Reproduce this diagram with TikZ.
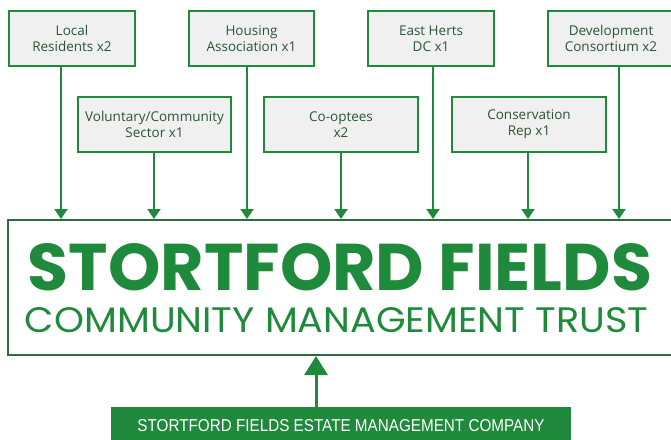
\documentclass[tikz,border=0pt]{standalone}
\usepackage{fontspec}
\usepackage{graphicx}
\setmainfont{Open Sans}
\newfontfamily\headfont{Poppins}
\newfontfamily\basefont{Liberation Sans}
\usepackage{xcolor}
\usepackage{tikz}
\usetikzlibrary{arrows.meta,positioning}
\definecolor{sfgreen}{HTML}{1F8A3B}
\definecolor{sfdark}{HTML}{2A6E40}
\definecolor{sftext}{HTML}{2A5536}
\definecolor{sfgrey}{HTML}{F0F0F0}

\begin{document}
\begin{tikzpicture}[x=1pt,y=-1pt,
  member/.style={draw=sfgreen,line width=2.5pt,fill=sfgrey,text=sftext,align=center,
    font=\fontsize{13.5}{16}\selectfont,inner sep=0pt,minimum height=55pt},
  feed/.style={sfgreen,line width=2pt,-{Triangle[length=10pt,width=13pt]}}]
\useasboundingbox (0,0) rectangle (671,439);

% Members, top row
\node[member,minimum width=126pt] (lr) at (72,38.5) {Local\\Residents x2};
\node[member,minimum width=125pt] (ha) at (251.5,38.5) {Housing\\Association x1};
\node[member,minimum width=126pt] (eh) at (431,38.5) {East Herts\\DC x1};
\node[member,minimum width=126pt] (dc) at (611,38.5) {Development\\Consortium x2};

% Members, second row
\node[member,minimum width=153pt] (vc) at (154.5,124.5) {Voluntary/Community\\Sector x1};
\node[member,minimum width=154pt] (co) at (341,124.5) {Co-optees\\x2};
\node[member,minimum width=154pt] (cr) at (529,124.5) {Conservation\\Rep x1};

% Trust
\node[draw=sfdark,line width=2pt,minimum width=672pt,minimum height=135pt,inner sep=0pt] (trust) at (344,287.5) {};
\node[sfgreen,anchor=base,inner sep=0pt] (name) at (340,290) {\resizebox{624pt}{47pt}{\headfont\bfseries STORTFORD FIELDS}};
\node[sfgreen,anchor=base,inner sep=0pt] (sub) at (336.5,332) {\resizebox{623pt}{25pt}{\headfont COMMUNITY MANAGEMENT TRUST}};

% Arrows into the trust
\foreach \m/\x [count=\i] in {lr/61,vc/154,ha/247,co/341,eh/433,cr/528,dc/619} {
  \coordinate (t\i) at (\x,0);
  \draw[feed] (\m.south -| t\i) -- (t\i |- trust.north);
}

% Company
\node[fill=sfgreen,text=white,minimum width=460pt,minimum height=37pt,inner sep=0pt] (emc) at (341,425.5)
  {\resizebox{407pt}{12pt}{\basefont STORTFORD FIELDS ESTATE MANAGEMENT COMPANY}};
\coordinate (up) at (316,0);
\draw[sfgreen,line width=3pt,-{Triangle[length=19pt,width=23pt]}] (emc.north -| up) -- (up |- trust.south);
\end{tikzpicture}
\end{document}
